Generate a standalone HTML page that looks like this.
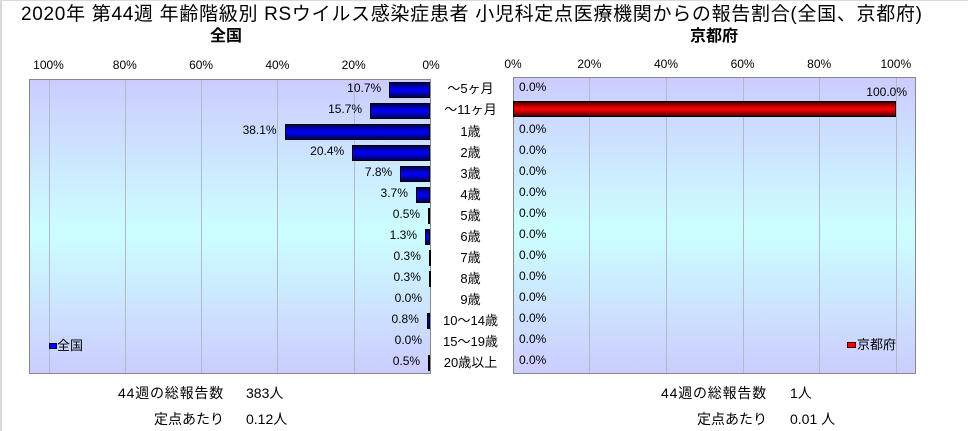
<!DOCTYPE html>
<html><head><meta charset="utf-8">
<style>
html,body{margin:0;padding:0;}
body{width:968px;height:431px;position:relative;overflow:hidden;background:#fff;font-family:"Liberation Sans","Noto Sans CJK JP",sans-serif;color:#000;}
.a{position:absolute;white-space:nowrap;}
.bl{position:absolute;left:0;top:0;width:2px;height:431px;background:#dadada;}
.bt{position:absolute;left:0;top:0;width:968px;height:1px;background:#dadada;}
.plot{position:absolute;box-sizing:border-box;border:1px solid #888;background:linear-gradient(to bottom,#ccccff 0%,#ccffff 52%,#ccccff 100%);}
.g{position:absolute;top:0;bottom:0;width:1px;background:#b4b8c8;}
.bar{position:absolute;box-sizing:border-box;border:1px solid #000;height:16px;background:linear-gradient(to bottom,#000050 0%,#0000c0 30%,#0000ff 50%,#0000c0 70%,#000050 100%);}
.rbar{position:absolute;box-sizing:border-box;border:1px solid #000;height:16px;background:linear-gradient(to bottom,#500000 0%,#c00000 30%,#ff0000 50%,#c00000 70%,#500000 100%);}
.tk{position:absolute;width:40px;text-align:center;font-size:12px;line-height:13px;}
.vl{position:absolute;font-size:12px;line-height:21px;height:21px;text-align:right;white-space:nowrap;}
.rv{position:absolute;left:519px;font-size:12px;line-height:21px;height:21px;white-space:nowrap;}
.cat{position:absolute;left:429px;width:83px;text-align:center;font-size:13px;line-height:21px;height:21px;white-space:nowrap;}
.bt14{position:absolute;font-size:14px;line-height:20px;white-space:nowrap;}
</style></head><body>
<div class="bl"></div><div class="bt"></div>

<div class="a" style="left:21px;top:5px;font-size:19px;line-height:19px;letter-spacing:0.7px;">2020年 第44週 年齢階級別 RSウイルス感染症患者 小児科定点医療機関からの報告割合(全国、京都府)</div>

<div class="a" style="left:196px;width:60px;text-align:center;top:28px;font-size:16px;line-height:17px;font-weight:bold;">全国</div>
<div class="a" style="left:674px;width:80px;text-align:center;top:28px;font-size:16px;line-height:17px;font-weight:bold;">京都府</div>

<!-- left ticks -->
<div class="tk" style="left:28.5px;top:58.5px;">100%</div>
<div class="tk" style="left:104.8px;top:58.5px;">80%</div>
<div class="tk" style="left:181.1px;top:58.5px;">60%</div>
<div class="tk" style="left:257.4px;top:58.5px;">40%</div>
<div class="tk" style="left:333.7px;top:58.5px;">20%</div>
<div class="tk" style="left:411px;top:58.5px;">0%</div>
<!-- right ticks -->
<div class="tk" style="left:493px;top:57.5px;">0%</div>
<div class="tk" style="left:569.4px;top:57.5px;">20%</div>
<div class="tk" style="left:646px;top:57.5px;">40%</div>
<div class="tk" style="left:722.6px;top:57.5px;">60%</div>
<div class="tk" style="left:799.2px;top:57.5px;">80%</div>
<div class="tk" style="left:875.8px;top:57.5px;">100%</div>

<!-- left plot -->
<div class="plot" style="left:29px;top:79px;width:402px;height:295px;">
<div class="g" style="left:18.5px;"></div>
<div class="g" style="left:94.8px;"></div>
<div class="g" style="left:171.1px;"></div>
<div class="g" style="left:247.4px;"></div>
<div class="g" style="left:323.7px;"></div>
</div>
<!-- right plot -->
<div class="plot" style="left:513px;top:77px;width:403px;height:297px;">
<div class="g" style="left:75.4px;"></div>
<div class="g" style="left:152px;"></div>
<div class="g" style="left:228.6px;"></div>
<div class="g" style="left:305.2px;"></div>
<div class="g" style="left:381.8px;"></div>
</div>

<!-- left bars -->
<div class="bar" style="left:389.2px;width:40.8px;top:82px;"></div>
<div class="bar" style="left:370.1px;width:59.9px;top:103px;"></div>
<div class="bar" style="left:284.6px;width:145.4px;top:124px;"></div>
<div class="bar" style="left:352.2px;width:77.8px;top:145px;"></div>
<div class="bar" style="left:400.2px;width:29.8px;top:166px;"></div>
<div class="bar" style="left:415.9px;width:14.1px;top:187px;"></div>
<div class="bar" style="left:428.1px;width:1.9px;top:208px;"></div>
<div class="bar" style="left:425px;width:5px;top:229px;"></div>
<div class="bar" style="left:428.9px;width:1.1px;top:250px;"></div>
<div class="bar" style="left:428.9px;width:1.1px;top:271px;"></div>
<div class="bar" style="left:426.9px;width:3.1px;top:313px;"></div>
<div class="bar" style="left:428.1px;width:1.9px;top:355px;"></div>

<!-- left value labels -->
<div class="vl" style="right:586.8px;top:78px;">10.7%</div>
<div class="vl" style="right:605.9px;top:99px;">15.7%</div>
<div class="vl" style="right:691.4px;top:120px;">38.1%</div>
<div class="vl" style="right:623.8px;top:141px;">20.4%</div>
<div class="vl" style="right:575.8px;top:162px;">7.8%</div>
<div class="vl" style="right:560.1px;top:183px;">3.7%</div>
<div class="vl" style="right:547.9px;top:204px;">0.5%</div>
<div class="vl" style="right:551px;top:225px;">1.3%</div>
<div class="vl" style="right:547.1px;top:246px;">0.3%</div>
<div class="vl" style="right:547.1px;top:267px;">0.3%</div>
<div class="vl" style="right:546px;top:288px;">0.0%</div>
<div class="vl" style="right:549.1px;top:309px;">0.8%</div>
<div class="vl" style="right:546px;top:330px;">0.0%</div>
<div class="vl" style="right:547.9px;top:351px;">0.5%</div>

<!-- categories -->
<div class="cat" style="top:78px;">～5ヶ月</div>
<div class="cat" style="top:99px;">～11ヶ月</div>
<div class="cat" style="top:121px;">1歳</div>
<div class="cat" style="top:142px;">2歳</div>
<div class="cat" style="top:163px;">3歳</div>
<div class="cat" style="top:184px;">4歳</div>
<div class="cat" style="top:205px;">5歳</div>
<div class="cat" style="top:226px;">6歳</div>
<div class="cat" style="top:247px;">7歳</div>
<div class="cat" style="top:268px;">8歳</div>
<div class="cat" style="top:289px;">9歳</div>
<div class="cat" style="top:310px;">10～14歳</div>
<div class="cat" style="top:331px;">15～19歳</div>
<div class="cat" style="top:352px;">20歳以上</div>

<!-- right bar -->
<div class="rbar" style="left:513px;width:383px;top:101px;"></div>
<div class="a" style="right:61px;top:86px;font-size:12px;line-height:13px;">100.0%</div>

<!-- right value labels -->
<div class="rv" style="top:77px;">0.0%</div>
<div class="rv" style="top:119px;">0.0%</div>
<div class="rv" style="top:140px;">0.0%</div>
<div class="rv" style="top:161px;">0.0%</div>
<div class="rv" style="top:182px;">0.0%</div>
<div class="rv" style="top:203px;">0.0%</div>
<div class="rv" style="top:224px;">0.0%</div>
<div class="rv" style="top:245px;">0.0%</div>
<div class="rv" style="top:266px;">0.0%</div>
<div class="rv" style="top:287px;">0.0%</div>
<div class="rv" style="top:308px;">0.0%</div>
<div class="rv" style="top:329px;">0.0%</div>
<div class="rv" style="top:350px;">0.0%</div>

<!-- legends -->
<div class="a" style="left:49px;top:343px;width:8px;height:6px;box-sizing:border-box;border:1px solid #000040;background:#0000ff;"></div>
<div class="a" style="left:57px;top:337px;font-size:13px;line-height:18px;">全国</div>
<div class="a" style="left:847px;top:342px;width:9px;height:6px;box-sizing:border-box;border:1px solid #400000;background:#ff0000;"></div>
<div class="a" style="left:857px;top:336px;font-size:13px;line-height:18px;">京都府</div>

<!-- bottom texts -->
<div class="bt14" style="right:744px;top:383px;letter-spacing:0.8px;">44週の総報告数</div>
<div class="bt14" style="left:246px;top:383px;">383人</div>
<div class="bt14" style="right:744px;top:409px;">定点あたり</div>
<div class="bt14" style="left:246px;top:409px;">0.12人</div>

<div class="bt14" style="right:201px;top:383px;letter-spacing:0.8px;">44週の総報告数</div>
<div class="bt14" style="left:790px;top:383px;">1人</div>
<div class="bt14" style="right:201px;top:409px;">定点あたり</div>
<div class="bt14" style="left:790px;top:409px;">0.01 人</div>
</body></html>
